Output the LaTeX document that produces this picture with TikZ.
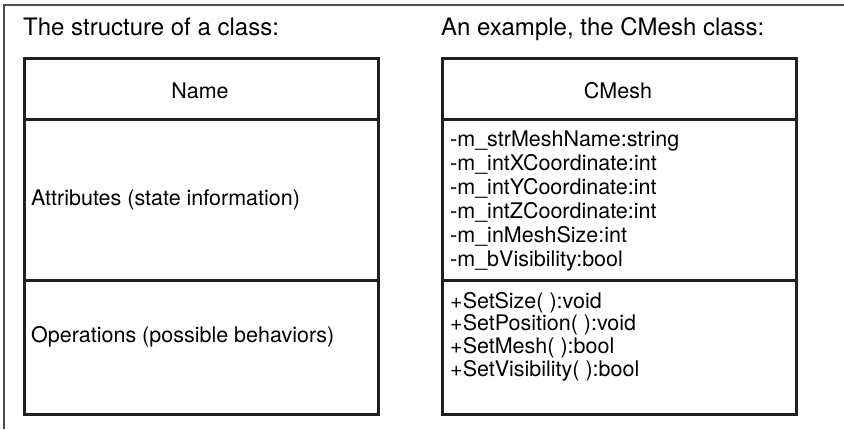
\documentclass[tikz,border=0pt]{standalone}
\usepackage{fontspec}
\setmainfont{TeX Gyre Heros}

\definecolor{boxline}{HTML}{231F20}
\definecolor{frameline}{HTML}{4D4D4D}

\tikzset{
	compart/.style={draw=boxline, line width=3pt, minimum width=354pt, inner sep=0pt, anchor=north west},
	heading/.style={anchor=base west, inner sep=0pt, font=\fontsize{24}{28}\selectfont},
	member/.style={anchor=base west, inner sep=0pt, font=\fontsize{21.5}{24}\selectfont}
}

\begin{document}
\begin{tikzpicture}[x=1pt,y=-1pt]
	
	% Canvas
	\useasboundingbox (0,0) rectangle (844,429);
	
	% Frame, left and top edge only
	\coordinate (frameBL) at (4,429);
	\coordinate (frameTL) at (4,5);
	\coordinate (frameTR) at (844,5);
	\draw[frameline, line width=1.5pt] (frameBL) -- (frameTL) -- (frameTR);
	
	% Left: the general structure of a class
	\node[heading] (titleL) at (23,35) {The structure of a class:};
	\node[compart, minimum height=61pt] (nameL) at (23,57) {};
	\node[compart, minimum height=161pt] (attrL) at (23,118) {};
	\node[compart, minimum height=134pt] (opsL) at (23,279) {};
	\node[member, anchor=base] (nameLT) at (200,98) {Name};
	\node[member] (attrLT) at (31,205) {Attributes (state information)};
	\node[member] (opsLT) at (31,342) {Operations (possible behaviors)};
	
	% Right: the CMesh class
	\node[heading] (titleR) at (441,35) {An example, the CMesh class:};
	\node[compart, minimum height=61pt] (nameR) at (441,57) {};
	\node[compart, minimum height=161pt] (attrR) at (441,118) {};
	\node[compart, minimum height=134pt] (opsR) at (441,279) {};
	\node[member, anchor=base] (nameRT) at (618,98) {CMesh};
	
	% Attributes, one per line, 24pt apart
	\foreach \txt [count=\i] in {-m\textunderscore strMeshName:string, -m\textunderscore intXCoordinate:int,
		-m\textunderscore intYCoordinate:int, -m\textunderscore intZCoordinate:int, -m\textunderscore inMeshSize:int,
		-m\textunderscore bVisibility:bool} {
		\node[member] (attrR\i) at (450,{146+24*(\i-1)}) {\txt};
	}
	
	% Operations, one per line
	\foreach \txt [count=\i] in {+SetSize( ):void, +SetPosition( ):void,
		+SetMesh( ):bool, +SetVisibility( ):bool} {
		\node[member] (opsR\i) at (450,{308+22.7*(\i-1)}) {\txt};
	}
	
\end{tikzpicture}
\end{document}
